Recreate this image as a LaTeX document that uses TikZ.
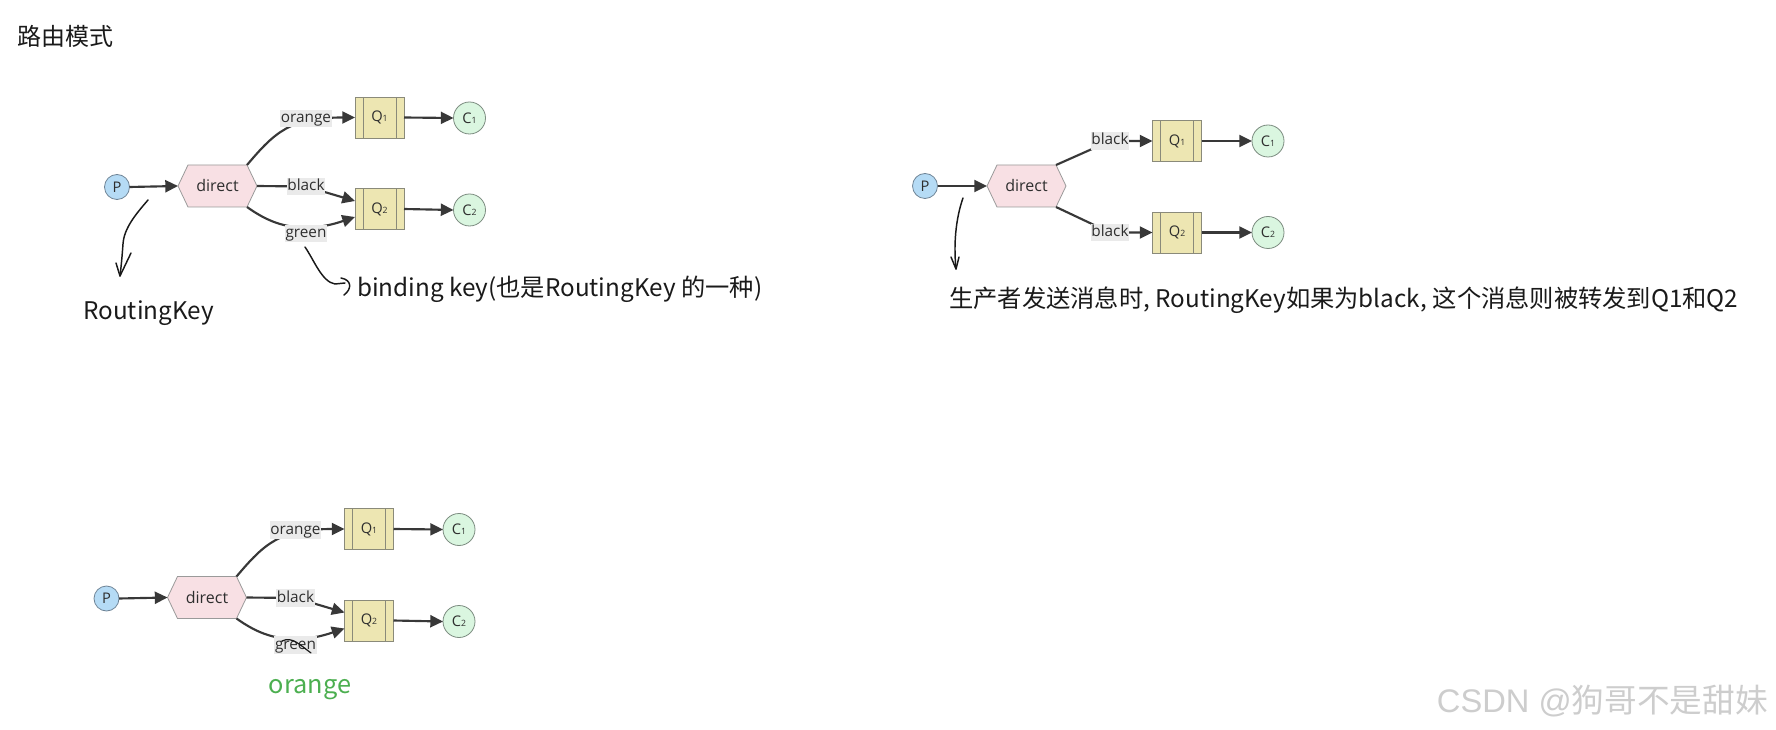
\documentclass[tikz,border=0pt]{standalone}
\usepackage{fontspec}
\setmainfont{Noto Sans CJK SC}
\newfontfamily\diagfont{Open Sans}
\newfontfamily\wmlatin{Liberation Sans}
\newfontfamily\cjkfont{Noto Sans CJK SC}
\usetikzlibrary{arrows.meta,calc}
\definecolor{pfill}{HTML}{B5DBF5}
\definecolor{pdraw}{HTML}{6F8496}
\definecolor{xfill}{HTML}{F8E0E4}
\definecolor{xdraw}{HTML}{9A9A9A}
\definecolor{qfill}{HTML}{EDE6B2}
\definecolor{qdraw}{HTML}{8A8A7A}
\definecolor{cfill}{HTML}{DAF6E0}
\definecolor{cdraw}{HTML}{7C8C80}
\definecolor{labfill}{HTML}{EAEAEA}
\definecolor{edgec}{HTML}{383838}
\definecolor{txt}{HTML}{2E2E2E}
\definecolor{ink}{HTML}{1A1A1A}
\definecolor{okgreen}{HTML}{4CAF50}
\definecolor{wm}{HTML}{CDCDCD}
\newcommand{\subn}[1]{{\fontsize{6.5}{6.5}\selectfont #1}}
\newcommand{\xchg}[3]{%
  \filldraw[xshape] (#2-39.5,#3) -- (#2-29.5,#3-21) -- (#2+29.5,#3-21) -- (#2+39.5,#3) -- (#2+29.5,#3+21) -- (#2-29.5,#3+21) -- cycle;
  \node[xnode] (#1) at (#2,#3) {direct};}
\tikzset{
  edge/.style={draw=edgec, line width=1.6pt, line join=round, -{Triangle[length=9.5pt,width=9pt]}},
  hand/.style={draw=black!90, line width=1.1pt, line cap=round, line join=round},
  pn/.style={circle, fill=pfill, draw=pdraw, line width=0.6pt, minimum size=18.75pt, inner sep=0pt, outer sep=0pt, font=\diagfont\fontsize{11}{11}\selectfont, text=txt},
  cn/.style={pn, fill=cfill, draw=cdraw, minimum size=24pt},
  qn/.style={rectangle, fill=qfill, draw=qdraw, line width=0.6pt, minimum width=36.75pt, minimum height=30.75pt, inner sep=0pt, outer sep=0pt, font=\diagfont\fontsize{11}{11}\selectfont, text=txt,
    path picture={
      \draw[qdraw, line width=0.6pt] ([xshift=6pt]path picture bounding box.north west) -- ([xshift=6pt]path picture bounding box.south west);
      \draw[qdraw, line width=0.6pt] ([xshift=-6pt]path picture bounding box.north east) -- ([xshift=-6pt]path picture bounding box.south east);}},
  xshape/.style={fill=xfill, draw=xdraw, line width=0.6pt},
  xnode/.style={rectangle, minimum width=59.25pt, minimum height=31.5pt, inner sep=0pt, outer sep=0pt, font=\diagfont\fontsize{12}{12}\selectfont, text=txt},
  lab/.style={fill=labfill, inner xsep=0.6pt, inner ysep=0.8pt, text height=8.6pt, text depth=2.6pt, font=\diagfont\fontsize{11.5}{11.5}\selectfont, text=txt},
  anno/.style={inner sep=0pt, font=\cjkfont\fontsize{18.2}{18.2}\selectfont, text=ink},
}
\newcommand{\diagA}[1]{%
  \node[pn] (P#1) at (117,187) {P};
  \xchg{D#1}{217.5}{186}
  \node[qn] (Qa#1) at (379.5,117.5) {Q\subn{1}};
  \node[qn] (Qb#1) at (379.5,209) {Q\subn{2}};
  \node[cn] (Ca#1) at (469.5,118) {C\subn{1}};
  \node[cn] (Cb#1) at (469.5,210) {C\subn{2}};
  \draw[edge] (P#1.east) -- (D#1.west);
  \draw[edge] ([xshift=-7.5pt]D#1.north east) .. controls (275,132) and (290,117.5) .. (Qa#1.west);
  \draw[edge] (D#1.east) -- (306,186.5) -- ([yshift=6pt]Qb#1.west);
  \draw[edge] ([xshift=-7.5pt]D#1.south east) .. controls (268,222) and (285,227.5) .. (306,227.5) .. controls (325,227.5) and (340,222) .. ([yshift=-6pt]Qb#1.west);
  \draw[edge] (Qa#1.east) -- (Ca#1.west);
  \draw[edge] (Qb#1.east) -- (Cb#1.west);
  \node[lab] (La#1) at (306,118.5) {orange};
  \node[lab] (Lb#1) at (306,186.5) {black};
  \node[lab] (Lc#1) at (306,233.5) {green};
}
\begin{document}
\begin{tikzpicture}[x=0.75pt,y=-0.75pt]
\useasboundingbox (0,0) rectangle (1776,730);
\fill[white] (0,0) rectangle (1776,730);
% title
\node[anno, anchor=base west, font=\cjkfont\fontsize{18}{18}\selectfont] (title) at (17,46) {路由模式};
% diagram 1
\diagA{a}
\draw[hand] (148,200) .. controls (136,214) and (124,228) .. (123,244) .. controls (122,258) and (121,268) .. (120,276);
\draw[hand] (116,263) -- (120,276) -- (131,253);
\node[anno, anchor=base west] (rk) at (83,320) {RoutingKey};
\draw[hand] (305,247) .. controls (314,260) and (322,282) .. (335,284) -- (345,283);
\draw[hand] (341,278) .. controls (352,280) and (352,289) .. (344,295);
\node[anno, anchor=base west] (bk) at (357,297) {binding key(也是RoutingKey 的一种)};
% diagram 2
\node[pn] (P2) at (925,186) {P};
\xchg{D2}{1026.5}{186}
\node[qn] (Qa2) at (1177,141) {Q\subn{1}};
\node[qn] (Qb2) at (1177,232.5) {Q\subn{2}};
\node[cn] (Ca2) at (1268,141) {C\subn{1}};
\node[cn] (Cb2) at (1268,232.5) {C\subn{2}};
\draw[edge] (P2.east) -- (D2.west);
\draw[edge] ([xshift=-7.5pt]D2.north east) -- (1110,141) -- (Qa2.west);
\draw[edge] ([xshift=-7.5pt]D2.south east) -- (1110,232.5) -- (Qb2.west);
\draw[edge] (Qa2.east) -- (Ca2.west);
\draw[edge] (Qb2.east) -- (Cb2.west);
\node[lab] (La2) at (1110,141) {black};
\node[lab] (Lb2) at (1110,232.5) {black};
\draw[hand] (963,198) .. controls (957,215) and (953,240) .. (956,269);
\draw[hand] (951,257) -- (956,269) -- (959,257);
\node[anno, anchor=base west] (cap2) at (949,308) {生产者发送消息时, RoutingKey如果为black, 这个消息则被转发到Q1和Q2};
% diagram 3
\begin{scope}[shift={(-10.5,411.5)}]
\diagA{c}
\end{scope}
\draw[hand, line width=0.9pt] (282,641) .. controls (292,636) and (300,645) .. (311,653);
\node[anno, anchor=base, text=okgreen, font=\cjkfont\fontsize{19}{19}\selectfont] (og) at (310,693) {orange};
% watermark
\node[anchor=base east, inner sep=0pt, text=wm, font=\cjkfont\fontsize{24.5}{24.5}\selectfont] (wmk) at (1768,712) {{\wmlatin CSDN @}狗哥不是甜妹};
\end{tikzpicture}
\end{document}
